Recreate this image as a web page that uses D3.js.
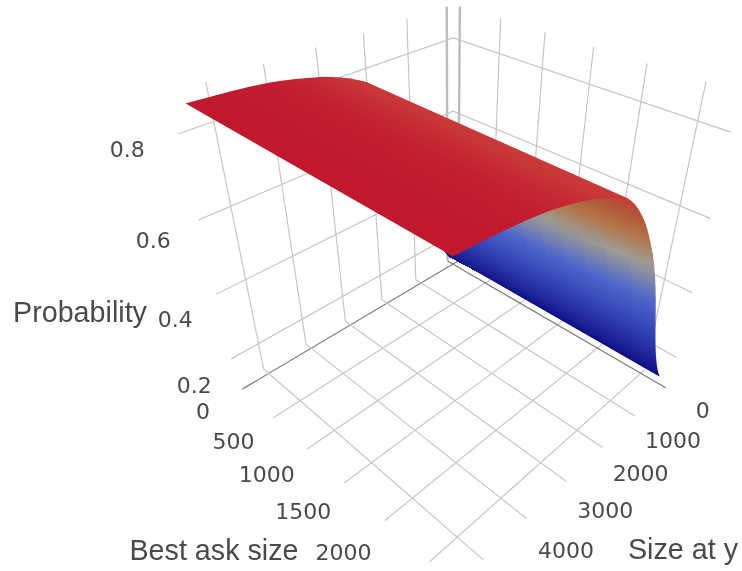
<!DOCTYPE html>
<html><head><meta charset="utf-8"><style>html,body{margin:0;background:#fff;overflow:hidden}svg{display:block;filter:blur(.6px)}</style>
<script src="https://cdn.jsdelivr.net/npm/d3@7"></script></head><body><svg id="chart" width="742" height="571"></svg>
<script>
// ---- data ----
const askTicks  = [0, 500, 1000, 1500, 2000, 2500];
const askLabels = [0, 500, 1000, 1500, 2000];
const sizeTicks = [0, 1000, 2000, 3000, 4000, 5000];
const sizeLabels= [0, 1000, 2000, 3000, 4000];
const probTicks = [0.2, 0.4, 0.6, 0.8];
const askRange  = [-85, 2770];
const sizeRange = [-170, 5585];
const probRange = [0.113, 0.884];
const surfaceAskEnds = [80, 2700];
const surfaceSize = [92, 170, 250, 330, 400, 480, 550, 620, 700, 780, 870, 960, 1060, 1160, 1257, 1340, 1410, 1490, 1566, 1640, 1700, 1770, 1844, 1950, 2050, 2150, 2251, 2330, 2411, 2600, 2800, 3000, 3178, 3450, 3700, 3950, 4150, 4500, 4827, 5100, 5368, 5513];
const probAtLowAsk  = [.15, .16, .165, .18, .195, .215, .235, .26, .285, .315, .35, .385, .425, .465, .505, .535, .56, .59, .62, .645, .665, .69, .71, .735, .758, .774, .787, .793, .798, .81, .82, .829, .836, .844, .851, .857, .861, .866, .869, .871, .873, .874];
const probAtHighAsk = [.15, .168, .19, .215, .24, .27, .30, .332, .37, .408, .45, .488, .527, .562, .592, .613, .632, .652, .67, .686, .698, .711, .724, .741, .755, .767, .778, .783, .788, .80, .811, .821, .829, .839, .847, .854, .858, .864, .868, .871, .873, .874];
const colorStops = [.14, .43, .55, .64, .70, .77, .82, .87];
const colorRamp  = ["#0a0a82", "#4b64cd", "#9c9c96", "#b47346", "#af5a37", "#c83a38", "#c83738", "#c0192d"];

// ---- projection ----
const camera = [[80.7767, -228.800, -89.3952, 452.884],
                [46.7441, 47.2263, -257.267, 264.158],
                [-0.167139, -0.166146, -0.198242, 1]];
const xS = d3.scaleLinear().domain([0, 2500]).range([0, 1]);
const yS = d3.scaleLinear().domain([0, 5000]).range([0, 1]);
const zS = d3.scaleLinear().domain(probRange).range([0, 1]);
const color = d3.scaleLinear().domain(colorStops).range(colorRamp).clamp(true);
function project(x, y, z) {
  const v = [xS(x), yS(y), zS(z), 1];
  const h = camera.map(r => d3.sum(r, (c, i) => c * v[i]));
  return [h[0] / h[2], h[1] / h[2]];
}
const svg = d3.select("#chart");
const line = d3.line();
const [x0, x1] = askRange, [y0, y1] = sizeRange, [zf, zt] = probRange;

// ---- grid ----
const gridDefs = [];
const zeroFloor = "#7d7d7d", zeroWall = "#bcbcbc", grid = "#c6c6c6";
askTicks.forEach(x => {
  gridDefs.push({pts: [[x, y0, zf], [x, y1, zf]], c: x === 0 ? zeroFloor : grid, w: 1.2});
  gridDefs.push({pts: [[x, y0, zf], [x, y0, zt]], c: x === 0 ? zeroWall : grid, w: x === 0 ? 2.4 : 1.2});
});
sizeTicks.forEach(y => {
  gridDefs.push({pts: [[x0, y, zf], [x1, y, zf]], c: y === 0 ? zeroFloor : grid, w: 1.2});
  gridDefs.push({pts: [[x0, y, zf], [x0, y, zt]], c: y === 0 ? zeroWall : grid, w: y === 0 ? 2.4 : 1.2});
});
probTicks.forEach(z => {
  gridDefs.push({pts: [[x0, y1, z], [x0, y0, z], [x1, y0, z]], c: grid, w: 1.2});
});
svg.append("g").attr("fill", "none").selectAll("path").data(gridDefs).join("path")
  .attr("d", d => line(d.pts.map(p => project(...p))))
  .attr("stroke", d => d.c).attr("stroke-width", d => d.w);

// ---- surface: strips painted from far to near, each with anti-aliased outer edges ----
const [xA, xB] = surfaceAskEnds;
const columns = d3.scaleLinear().domain([0, 12]).range(surfaceAskEnds);
const surfaceAsk = d3.range(13).map(columns);
const t = d3.scaleLinear().domain(surfaceAskEnds).range([0, 1]);
const probAt = (x, i) => probAtLowAsk[i] + (probAtHighAsk[i] - probAtLowAsk[i]) * t(x);
const marks = [];
const edge = (p, q) => ({edge: true, poly: [project(...p), project(...q)], paint: color((p[2] + q[2]) / 2)});
const rowEdges = i => d3.pairs(surfaceAsk).forEach(([a, b]) =>
  marks.push(edge([a, surfaceSize[i], probAt(a, i)], [b, surfaceSize[i], probAt(b, i)])));
rowEdges(0);
d3.pairs(d3.range(surfaceSize.length)).forEach(([i, j]) => {
  d3.pairs(surfaceAsk).forEach(([xa, xb]) => marks.push({xa, xb, i, j}));
  [xA, xB].forEach(x => marks.push(edge([x, surfaceSize[i], probAt(x, i)], [x, surfaceSize[j], probAt(x, j)])));
  if (surfaceSize[j] > 2000 && surfaceSize[j] < 3300) rowEdges(j); // the crest's outline
});
rowEdges(surfaceSize.length - 1);
const defs = svg.append("defs");
marks.filter(c => !c.edge).forEach((c, k) => {
  const ya = surfaceSize[c.i], yb = surfaceSize[c.j];
  const a0 = project(c.xa, ya, probAt(c.xa, c.i)), a1 = project(c.xb, ya, probAt(c.xb, c.i));
  const b0 = project(c.xa, yb, probAt(c.xa, c.j)), b1 = project(c.xb, yb, probAt(c.xb, c.j));
  c.poly = [a0, a1, b1, b0];
  const za = (probAt(c.xa, c.i) + probAt(c.xb, c.i)) / 2, zb = (probAt(c.xa, c.j) + probAt(c.xb, c.j)) / 2;
  const m0 = [(a0[0] + a1[0]) / 2, (a0[1] + a1[1]) / 2], m1 = [(b0[0] + b1[0]) / 2, (b0[1] + b1[1]) / 2];
  const dx = a1[0] - a0[0], dy = a1[1] - a0[1], L = Math.hypot(dx, dy);
  const n = [-dy / L, dx / L], len = (m1[0] - m0[0]) * n[0] + (m1[1] - m0[1]) * n[1];
  const g = defs.append("linearGradient").attr("id", "g" + k).attr("gradientUnits", "userSpaceOnUse")
    .attr("x1", m0[0]).attr("y1", m0[1]).attr("x2", m0[0] + n[0] * len).attr("y2", m0[1] + n[1] * len);
  g.append("stop").attr("offset", 0).attr("stop-color", color(za));
  g.append("stop").attr("offset", 1).attr("stop-color", color(zb));
  c.paint = Math.abs(len) < 0.05 ? color(zb) : `url(#g${k})`;
});
svg.append("g").selectAll("path").data(marks).join("path")
  .attr("d", d => d.edge ? line(d.poly) : line(d.poly) + "Z")
  .attr("fill", d => d.edge ? "none" : d.paint)
  .attr("stroke", d => d.edge ? d.paint : "none")
  .attr("stroke-width", 1).attr("stroke-linecap", "round")
  .attr("shape-rendering", d => d.edge ? "auto" : "crispEdges");

// ---- labels ----
const ink = "#4a4a4a";
const zLabel = d3.scaleLinear().domain([0.2, 0.8]).range([0.18, 0.805]);
const labelDefs = [
  ...askLabels.map(x => ({t: String(x), p: project(x, y1 + 820, zf), dy: x === 0 ? -0.5 : -2})),
  ...sizeLabels.map(y => ({t: String(y), p: project(x1 + 380, y, zf), dy: 1})),
  ...probTicks.map(z => ({t: String(z), p: project(x0, y1 + 785, zLabel(z)), dy: z === 0.2 ? -1.5 : 0}))
];
svg.append("g").attr("font-family", "'DejaVu Sans', sans-serif").attr("font-size", 22).attr("fill", ink)
  .attr("text-anchor", "middle").attr("dominant-baseline", "central")
  .selectAll("text").data(labelDefs).join("text")
  .attr("x", d => d.p[0]).attr("y", d => d.p[1] + d.dy).text(d => d.t);
const titleDefs = [{t: "Probability", x: 80, y: 312}, {t: "Best ask size", x: 214, y: 550}, {t: "Size at y", x: 683, y: 549}];
svg.append("g").attr("font-family", "'Liberation Sans', sans-serif").attr("font-size", 28.7).attr("fill", ink)
  .attr("text-anchor", "middle").attr("dominant-baseline", "central")
  .selectAll("text").data(titleDefs).join("text")
  .attr("x", d => d.x).attr("y", d => d.y).text(d => d.t);
</script></body></html>
